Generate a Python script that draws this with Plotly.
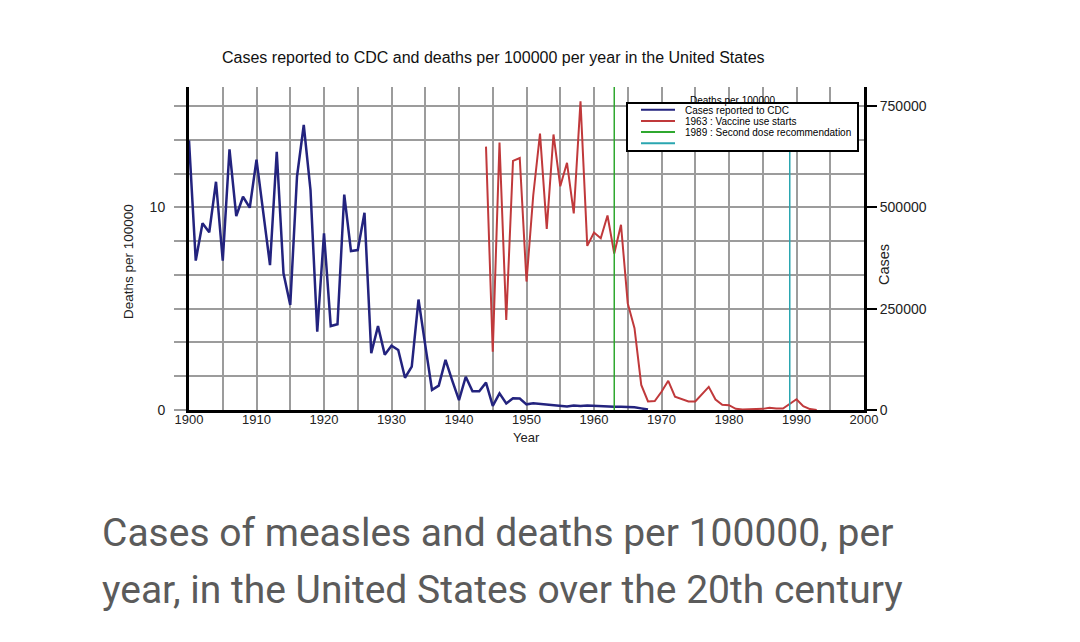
import plotly.graph_objects as go

# measles deaths per 100000 (left axis)
death_years = list(range(1900, 1969))
deaths = [
    13.3, 7.37, 9.21, 8.77, 11.26, 7.37, 12.86, 9.57, 10.52, 9.98,
    12.35, 9.8, 7.15, 12.74, 6.74, 5.18, 11.51, 14.06, 10.85, 3.86,
    8.72, 4.14, 4.23, 10.63, 7.84, 7.89, 9.73, 2.80, 4.14, 2.73,
    3.17, 2.96, 1.59, 2.14, 5.45, 3.2, 0.99, 1.2, 2.47, 1.45,
    0.49, 1.64, 0.92, 0.92, 1.35, 0.2, 0.82, 0.32, 0.58, 0.57,
    0.28, 0.33, 0.3, 0.28, 0.22, 0.2, 0.17, 0.22, 0.2, 0.22,
    0.2, 0.2, 0.18, 0.16, 0.16, 0.16, 0.14, 0.08, 0.02,
]

# cases reported to CDC (right axis)
case_years = list(range(1944, 1994))
cases = [
    650000, 144000, 660000, 222000, 615000, 622000, 317000, 530000, 682000, 447000,
    680000, 552000, 610000, 485000, 762000, 405000, 438000, 424000, 480000, 386000,
    457000, 263000, 202000, 62000, 21000, 22000, 45000, 72000, 33000, 27000,
    21000, 21000, 38000, 57000, 26000, 13000, 12000, 3000, 1500, 1500,
    2500, 2800, 5500, 3500, 3400, 14000, 26500, 9500, 2200, 300,
]

event_years = [1963, 1989]
event_colors = ['#2fa82f', '#2aa6b0']

legend_labels = [
    'Deaths per 100000',
    'Cases reported to CDC',
    '1963 : Vaccine use starts',
    '1989 : Second dose recommendation',
]
legend_colors = ['#23237e', '#c0393b', '#2fa82f', '#2aa6b0']

right_ticks = [0, 250000, 500000, 750000]
left_ticks = [0, 10]

# page has an 8px body margin, so the figure sits 8px in from the window corner
OFF = 8
W, H = 1080 - 2 * OFF, 642 - 2 * OFF
L, R, T, B = 189, 864, 87, 410  # plot area in window pixels
GRID = '#9c9c9c'
FONT = 'Liberation Sans'


def px_x(p):
    return (p - L) / (R - L)


def px_y(p):
    return (B - p) / (B - T)


fig = go.Figure()

fig.add_trace(go.Scatter(x=death_years, y=deaths, mode='lines',
                         line=dict(color=legend_colors[0], width=2.5), yaxis='y'))
fig.add_trace(go.Scatter(x=case_years, y=cases, mode='lines',
                         line=dict(color=legend_colors[1], width=2), yaxis='y2'))

# event lines
for yr, col, top in zip(event_years, event_colors, [1.0, px_y(147)]):
    fig.add_shape(type='line', xref='x', yref='paper', x0=yr, x1=yr, y0=0, y1=top,
                  line=dict(color=col, width=1.5))

# hand-drawn legend box (text is offset one row, as in the original)
fig.add_shape(type='rect', xref='paper', yref='paper',
              x0=px_x(627), x1=px_x(858), y0=px_y(151), y1=px_y(103),
              fillcolor='white', line=dict(color='black', width=2))
for i, col in enumerate(legend_colors):
    yy = px_y(109.7 + i * 11.2)
    fig.add_shape(type='line', xref='paper', yref='paper',
                  x0=px_x(641), x1=px_x(675), y0=yy, y1=yy, line=dict(color=col, width=2))
for i, txt in enumerate(legend_labels):
    fig.add_annotation(x=px_x(688 if i == 0 else 683), y=px_y(100 + i * 10.8),
                       xref='paper', yref='paper', text=txt, showarrow=False,
                       xanchor='left', yanchor='middle',
                       font=dict(family=FONT, size=10, color='black'))


def label(text, x, y, size, angle=0, color='#222'):
    fig.add_annotation(x=px_x(x), y=px_y(y), xref='paper', yref='paper', text=text,
                       textangle=angle, showarrow=False, xanchor='center', yanchor='middle',
                       font=dict(family=FONT, size=size, color=color))


label('Cases reported to CDC and deaths per 100000 per year in the United States', 493, 57, 16, color='#111')
label('Year', 526, 437, 13)
label('Deaths per 100000', 128, 262, 13.5, angle=-90)
label('Cases', 884, 265, 14.5, angle=-90)

# caption under the chart
for txt, yc in [('Cases of measles and deaths per 100000, per', 533),
                ('year, in the United States over the 20th century', 590)]:
    fig.add_annotation(x=px_x(100), y=px_y(yc), xref='paper', yref='paper', text=txt,
                       showarrow=False, xanchor='left', yanchor='middle',
                       font=dict(family='Roboto', size=39, color='#5b5b5b'))

fig.update_layout(
    width=W,
    height=H,
    margin=dict(l=L - OFF, r=W + OFF - R, t=T - OFF, b=H + OFF - B, pad=0),
    plot_bgcolor='white',
    paper_bgcolor='white',
    showlegend=False,
    xaxis=dict(
        range=[1900, 2000],
        tick0=1900,
        dtick=10,
        showgrid=True,
        gridcolor=GRID,
        gridwidth=1.5,
        minor=dict(dtick=5, showgrid=True, gridcolor=GRID, gridwidth=1.5),
        showline=True,
        linecolor='black',
        linewidth=3,
        zeroline=False,
        ticks='',
        ticklabelstandoff=-5,
        tickfont=dict(family=FONT, size=13, color='#222'),
    ),
    yaxis=dict(
        range=[0, (B - T) / 20.27],
        tickmode='array',
        tickvals=left_ticks,
        showgrid=True,
        gridcolor=GRID,
        gridwidth=1.5,
        ticks='outside',
        ticklen=12,
        tickcolor=GRID,
        tickwidth=1.5,
        ticklabelstandoff=6,
        minor=dict(dtick=10 / 6, showgrid=True, gridcolor=GRID, gridwidth=1.5,
                   ticks='outside', ticklen=12, tickcolor=GRID, tickwidth=1.5),
        showline=True,
        linecolor='black',
        linewidth=3,
        zeroline=False,
        tickfont=dict(family=FONT, size=14, color='#222'),
    ),
    yaxis2=dict(
        overlaying='y',
        side='right',
        range=[0, (B - T) * 2468],
        tickmode='array',
        tickvals=right_ticks,
        ticktext=[str(v) for v in right_ticks],
        showgrid=False,
        ticks='outside',
        ticklen=10,
        tickcolor='black',
        tickwidth=1.5,
        showline=True,
        linecolor='black',
        linewidth=3,
        zeroline=False,
        tickfont=dict(family=FONT, size=14, color='#222'),
    ),
)

fig.write_html('out.html')
